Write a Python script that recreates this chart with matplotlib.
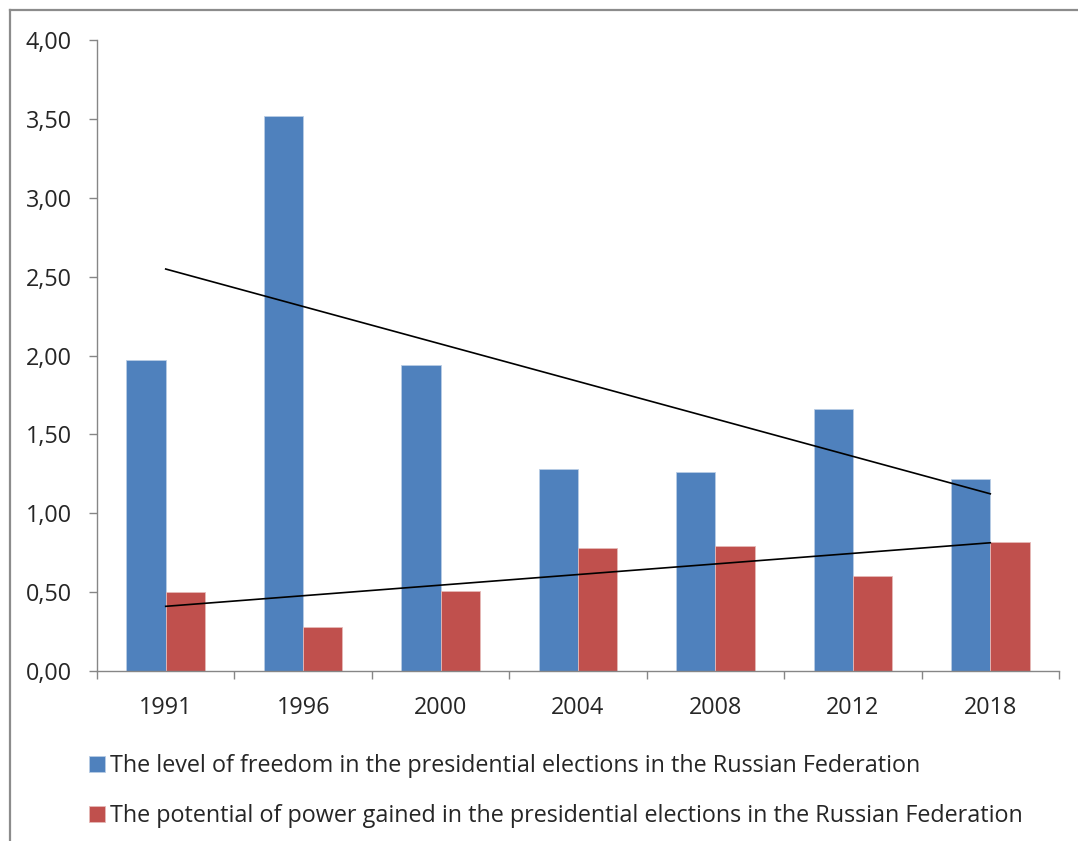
import numpy as np
import matplotlib.pyplot as plt
from matplotlib.lines import Line2D

plt.rcParams['font.family'] = ['Open Sans', 'DejaVu Sans']

# данные
years = ['1991', '1996', '2000', '2004', '2008', '2012', '2018']
freedom = [1.97, 3.52, 1.94, 1.28, 1.26, 1.66, 1.22]
power = [0.50, 0.28, 0.51, 0.78, 0.79, 0.60, 0.82]
label_freedom = 'The level of freedom in the presidential elections in the Russian Federation'
label_power = 'The potential of power gained in the presidential elections in the Russian Federation'
y_ticks = [0, 0.5, 1, 1.5, 2, 2.5, 3, 3.5, 4]

blue = '#4F81BD'
red = '#C0504D'
grey = '#868686'
fs = 16.8

fig = plt.figure(figsize=(10.78, 8.41), dpi=100)
ax = fig.add_axes([97/1078, 1 - 671/841, (1059 - 97)/1078, (671 - 40)/841])

x = np.arange(len(years))
w = 1 / 3.5
b1 = ax.bar(x - w/2, freedom, w, color=blue, edgecolor='#B9CDE5', linewidth=0.6, label=label_freedom)
b2 = ax.bar(x + w/2, power, w, color=red, edgecolor='#E6B9B8', linewidth=0.6, label=label_power)

# линейные тренды
for vals in (freedom, power):
    k, c = np.polyfit(x, vals, 1)
    ax.plot(x, k * x + c, color='black', lw=1.2)

ax.set_xlim(-0.5, len(years) - 0.5)
ax.set_ylim(0, 4)
ax.set_yticks(y_ticks)
ax.set_yticklabels([f'{v:.2f}'.replace('.', ',') for v in y_ticks])
ax.set_xticks(x)
ax.set_xticklabels(years)
ax.set_xticks(np.arange(-0.5, len(years)), minor=True)
ax.tick_params(axis='x', which='major', length=0, pad=18, labelsize=fs, labelcolor='#262626')
ax.tick_params(axis='x', which='minor', length=6, color=grey, width=1)
ax.tick_params(axis='y', length=6, color=grey, width=1, pad=12, labelsize=fs, labelcolor='#262626')

for s in ('top', 'right'):
    ax.spines[s].set_visible(False)
for s in ('left', 'bottom'):
    ax.spines[s].set_color(grey)
    ax.spines[s].set_linewidth(1)

leg = fig.legend(handles=[b1, b2], loc='upper left', bbox_to_anchor=(80/1078, 1 - 745/841),
                 frameon=False, fontsize=fs, handlelength=0.65, handleheight=0.65,
                 handletextpad=0.22, labelspacing=1.1, borderaxespad=0)
for t in leg.get_texts():
    t.set_color('#262626')

# рамка
fig.add_artist(Line2D([9.5/1078, 9.5/1078], [0, 1 - 9.5/841], color='#8c8c8c', lw=1.6, transform=fig.transFigure))
fig.add_artist(Line2D([9.5/1078, 1], [1 - 9.5/841, 1 - 9.5/841], color='#8c8c8c', lw=1.6, transform=fig.transFigure))

fig.savefig('out.png', dpi=100)
